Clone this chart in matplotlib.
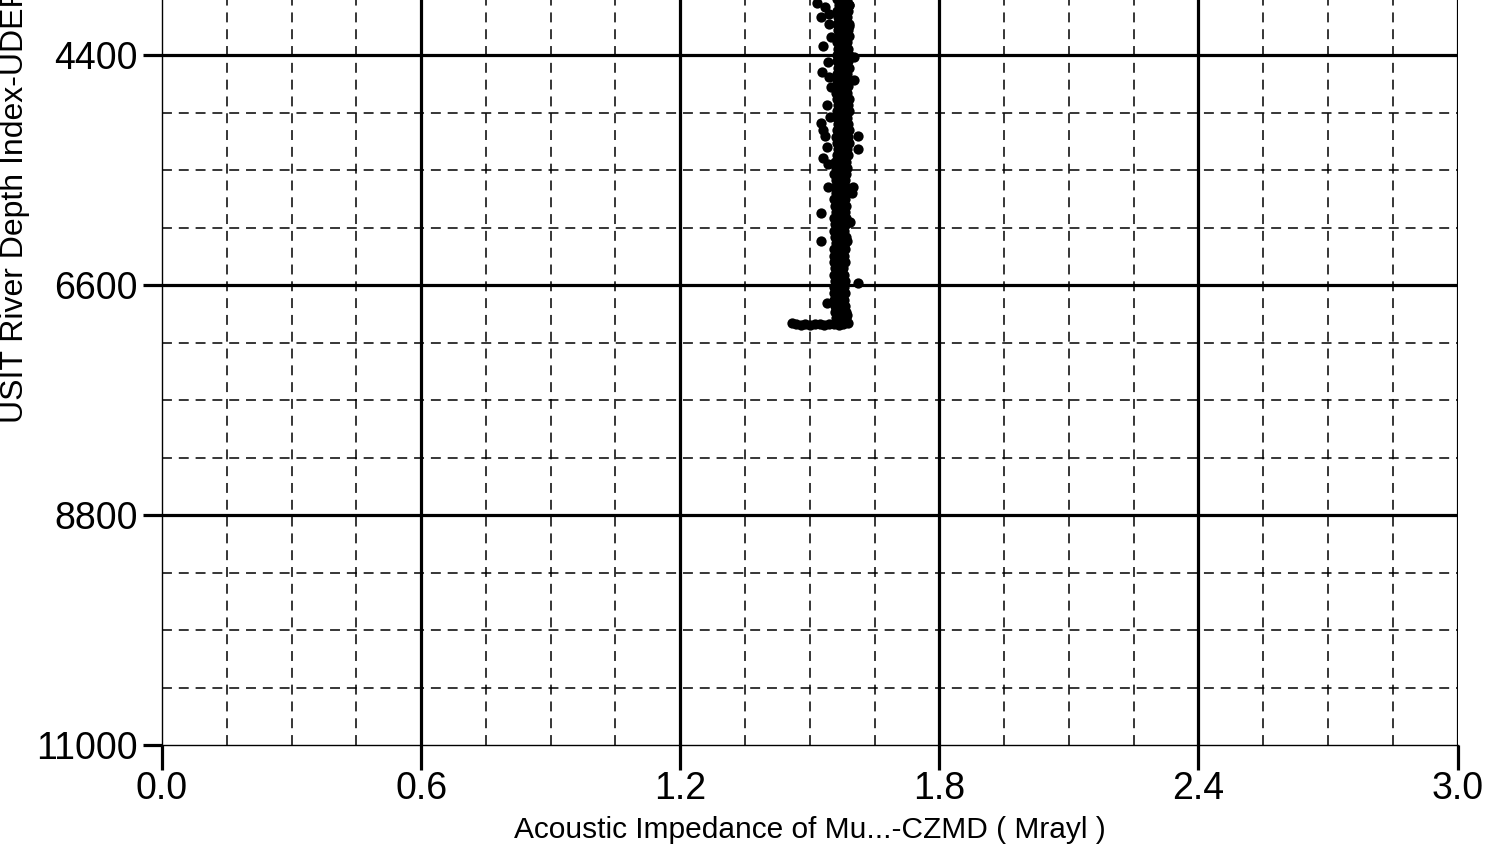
import numpy as np
import matplotlib
matplotlib.use('Agg')
import matplotlib.pyplot as plt
from matplotlib.ticker import MultipleLocator

plt.rcParams['font.family'] = ['Liberation Sans', 'DejaVu Sans']

# core of the log: depth rows with left / middle / right readings (Mrayl)
core_depth = [3800, 3860, 3920, 3980, 4040, 4100, 4160, 4220, 4280, 4340, 4400,
              4460, 4520, 4580, 4640, 4700, 4760, 4820, 4880, 4940, 5000, 5060,
              5120, 5180, 5240, 5300, 5360, 5420, 5480, 5540, 5600, 5660, 5720,
              5780, 5840, 5900, 5960, 6020, 6080, 6140, 6200, 6260, 6320, 6380,
              6440, 6500, 6560, 6620, 6680, 6740, 6800, 6860, 6920]
core_left = [1.566, 1.563, 1.567, 1.564, 1.566, 1.562, 1.565, 1.567, 1.563, 1.565, 1.564,
             1.563, 1.566, 1.562, 1.564, 1.565, 1.561, 1.564, 1.566, 1.563, 1.562, 1.565,
             1.563, 1.561, 1.564, 1.566, 1.562, 1.559, 1.561, 1.557, 1.560, 1.558, 1.561,
             1.556, 1.559, 1.560, 1.557, 1.559, 1.556, 1.558, 1.560, 1.557, 1.555, 1.557,
             1.559, 1.556, 1.558, 1.555, 1.557, 1.556, 1.559, 1.558, 1.560]
core_mid = [1.577, 1.575, 1.578, 1.576, 1.574, 1.577, 1.579, 1.575, 1.576, 1.578, 1.574,
            1.576, 1.575, 1.578, 1.574, 1.577, 1.575, 1.573, 1.577, 1.576, 1.574, 1.578,
            1.575, 1.573, 1.576, 1.577, 1.574, 1.571, 1.570, 1.572, 1.569, 1.571, 1.573,
            1.570, 1.568, 1.571, 1.572, 1.569, 1.570, 1.572, 1.569, 1.570, 1.568, 1.566,
            1.569, 1.567, 1.565, 1.568, 1.567, 1.569, 1.566, 1.568, 1.570]
core_right = [1.590, 1.587, 1.591, 1.588, 1.586, 1.590, 1.589, 1.592, 1.587, 1.589, 1.591,
              1.588, 1.590, 1.587, 1.592, 1.588, 1.586, 1.590, 1.589, 1.591, 1.587, 1.589,
              1.592, 1.588, 1.590, 1.586, 1.589, 1.583, 1.586, 1.584, 1.582, 1.585, 1.583,
              1.581, 1.584, 1.582, 1.585, 1.583, 1.580, 1.584, 1.582, 1.581, 1.579, 1.581,
              1.578, 1.580, 1.582, 1.579, 1.581, 1.580, 1.582, 1.583, 1.584]

# scattered readings off the main trend
out_x = [1.517, 1.535, 1.545, 1.526, 1.545, 1.592, 1.592, 1.549, 1.531, 1.603,
         1.542, 1.528, 1.545, 1.603, 1.549, 1.540, 1.547, 1.526, 1.531, 1.535,
         1.612, 1.540, 1.612, 1.531, 1.542, 1.542, 1.600, 1.598, 1.526, 1.593,
         1.526, 1.586, 1.612, 1.540, 1.586]
out_depth = [3903, 3941, 4008, 4037, 4103, 3922, 4123, 4228, 4314, 4419,
             4467, 4563, 4610, 4639, 4706, 4878, 4993, 5050, 5117, 5175,
             5175, 5280, 5299, 5385, 5443, 5663, 5663, 5720, 5911, 5997,
             6179, 6179, 6581, 6772, 6887]

# bottom of the run
bottom_x = [1.458, 1.468, 1.479, 1.490, 1.501, 1.512, 1.523, 1.534, 1.545, 1.556,
            1.567, 1.578, 1.588]
bottom_depth = [6968, 6975, 6980, 6972, 6983, 6976, 6970, 6981, 6974, 6969,
                6978, 6972, 6966]

x_major = [0.0, 0.6, 1.2, 1.8, 2.4, 3.0]
y_major = [2200, 4400, 6600, 8800, 11000]

fig = plt.figure(figsize=(14.9, 8.49), dpi=100)
ax = fig.add_axes([162 / 1490, 104 / 849, 1295.5 / 1490, 920 / 849])
ax.set_xlim(0, 3.0)
ax.set_ylim(11000, 2200)

ax.xaxis.set_ticks(x_major)
ax.yaxis.set_ticks(y_major)
ax.set_xticklabels(['%.1f' % v for v in x_major])
ax.xaxis.set_minor_locator(MultipleLocator(0.15))
ax.yaxis.set_minor_locator(MultipleLocator(550))

ax.grid(which='minor', color='black', lw=1.1, linestyle=(0, (6.5, 4.5)))
for v in x_major[1:]:
    ax.axvline(v, color='black', lw=2.3, zorder=1)
for v in y_major[:-1]:
    ax.axhline(v, color='black', lw=2.3, zorder=1)

ax.tick_params(which='minor', length=0)
ax.tick_params(axis='x', which='major', direction='out', length=18, width=2.3,
               labelsize=27, pad=1)
ax.tick_params(axis='y', which='major', direction='out', length=13.7, width=2.3,
               labelsize=27, pad=4)
for s in ['top', 'right']:
    ax.spines[s].set_visible(False)
for s in ['left', 'bottom']:
    ax.spines[s].set_linewidth(1.0)

dot = dict(color='black', s=55, linewidths=0, zorder=3)
ax.scatter(core_left, core_depth, **dot)
ax.scatter(core_mid, core_depth, **dot)
ax.scatter(core_right, core_depth, **dot)
ax.scatter(out_x, out_depth, **dot)
ax.scatter(bottom_x, bottom_depth, **dot)

fig.text(810 / 1490, 11 / 849, 'Acoustic Impedance of Mu...-CZMD ( Mrayl )',
         ha='center', va='baseline', fontsize=21.5)
fig.text(0 / 1490, 426 / 849, 'USIT River Depth Index-UDEPTH ( m )',
         rotation=90, ha='left', va='bottom', fontsize=23)

fig.savefig('out.png', dpi=100)
